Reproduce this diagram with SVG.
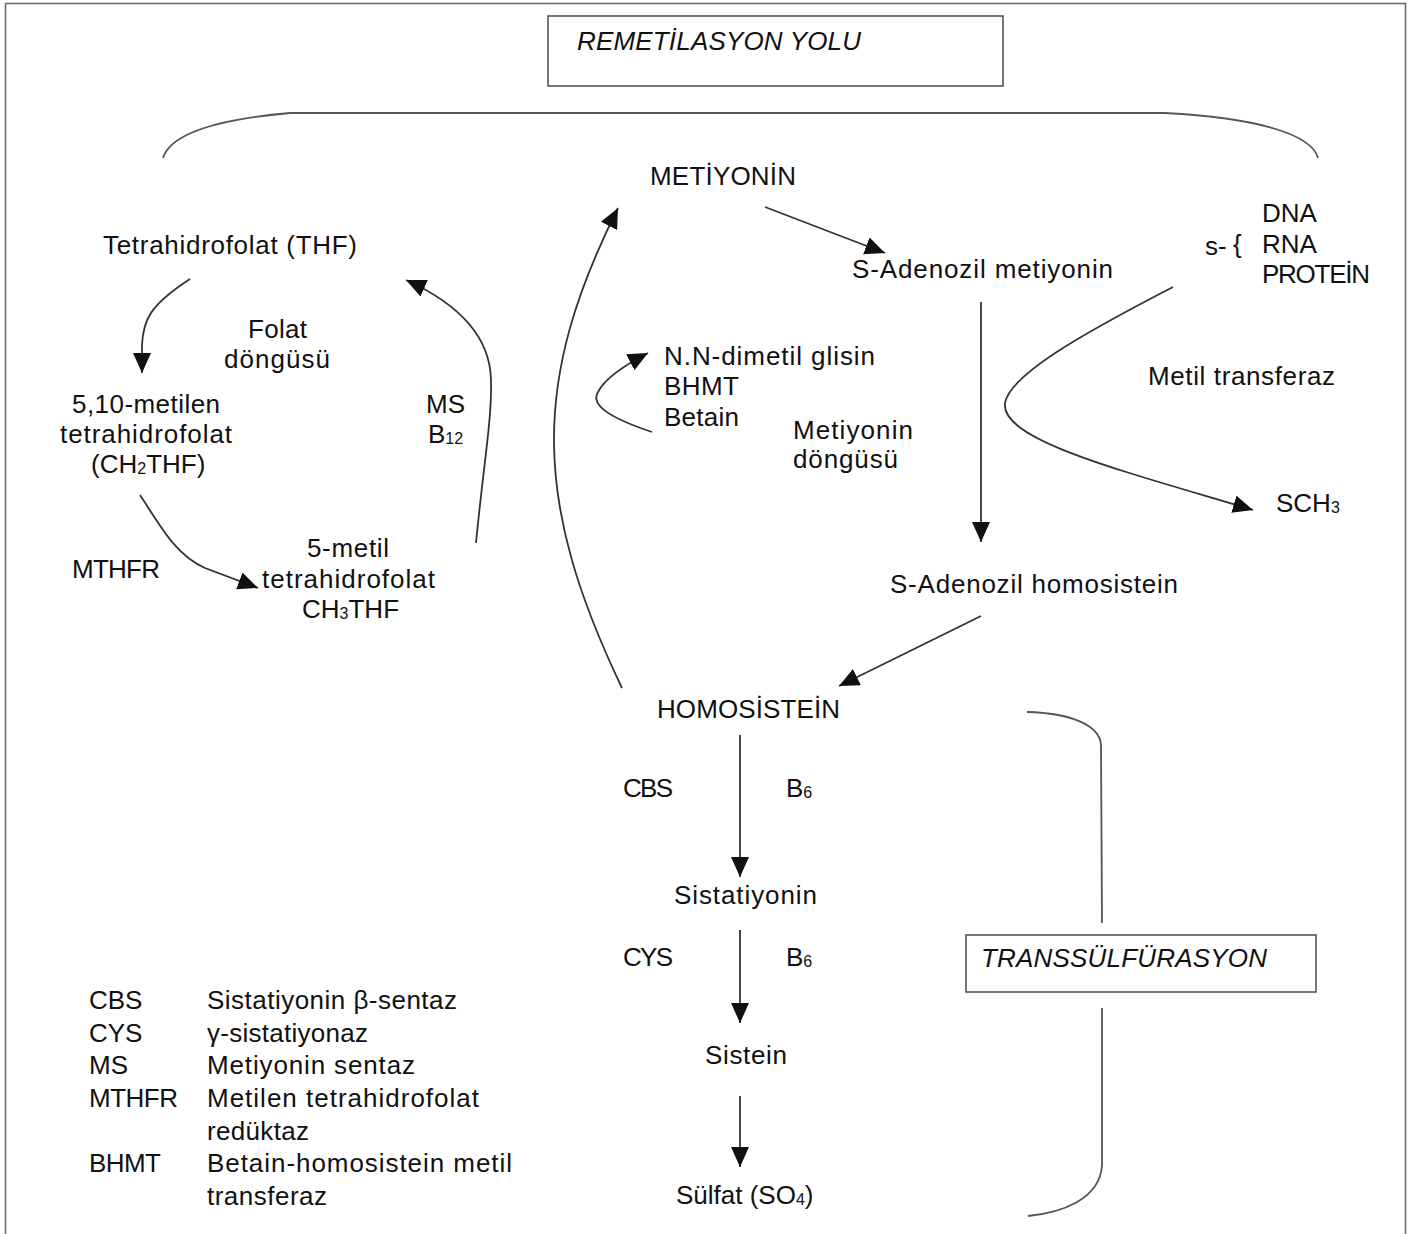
<svg xmlns="http://www.w3.org/2000/svg" width="1412" height="1234" viewBox="0 0 1412 1234">
<style>
.t{font-family:"Liberation Sans",Arial,sans-serif;font-size:26px;fill:#111}
.it{font-style:italic}
.sub{font-size:16px}
.ln{fill:none;stroke:#333;stroke-width:1.8}
.br{fill:none;stroke:#555;stroke-width:1.8}
.bx{fill:#fff;stroke:#555;stroke-width:1.6}
</style>
<defs>
<marker id="ah" markerUnits="userSpaceOnUse" markerWidth="22" markerHeight="20" refX="20" refY="9" orient="auto">
<path d="M0,0 L20,9 L0,18 z" fill="#111"/>
</marker>
</defs>
<rect width="1412" height="1234" fill="#fff"/>
<path d="M5.5,1234 V3.5 H1405.5 V1234" fill="none" stroke="#666" stroke-width="1.5"/>

<g id="brackets">
<path class="br" d="M163,158 C170,135 210,120 290,113 L1165,113 C1260,118 1312,135 1318,158"/>
<path class="br" d="M1027,712 C1070,713 1100,725 1101,745 L1102,923"/>
<path class="br" d="M1102,1008 L1102,1165 C1100,1200 1060,1213 1028,1216"/>
</g>

<g id="connectors">
<path class="ln" marker-end="url(#ah)" d="M190,279 C150,305 143,320 142,345 L142,373"/>
<path class="ln" marker-end="url(#ah)" d="M140,495 C160,525 175,555 205,568 L258,588"/>
<path class="ln" marker-end="url(#ah)" d="M476,543 C484,460 492,420 491,380 C490,330 450,300 406,280"/>
<path class="ln" marker-end="url(#ah)" d="M622,688 C532,500 532,380 618,208"/>
<path class="ln" marker-end="url(#ah)" d="M765,207 L885,253"/>
<path class="ln" marker-end="url(#ah)" d="M981,302 L981,542"/>
<path class="ln" marker-end="url(#ah)" d="M981,616 L839,686"/>
<path class="ln" marker-end="url(#ah)" d="M740,735 L740,877"/>
<path class="ln" marker-end="url(#ah)" d="M740,930 L740,1023"/>
<path class="ln" marker-end="url(#ah)" d="M740,1096 L740,1167"/>
<path class="ln" marker-end="url(#ah)" d="M652,432 C610,418 590,405 598,392 C605,378 625,365 648,353"/>
<path class="ln" marker-end="url(#ah)" d="M1173,287 C1080,335 1010,375 1005,403 C1000,440 1120,470 1253,510"/>
</g>

<g id="remetilasyon">
<rect class="bx" x="548" y="16" width="455" height="70"/>
<text class="t it" x="577" y="50" textLength="284">REMETİLASYON YOLU</text>
</g>
<g id="transsulfurasyon">
<rect class="bx" x="966" y="935" width="350" height="57"/>
<text class="t it" x="981" y="967" textLength="286">TRANSSÜLFÜRASYON</text>
</g>

<g id="metiyonin"><text class="t" x="650" y="185" textLength="146">METİYONİN</text></g>
<g id="thf"><text class="t" x="103" y="254" textLength="254">Tetrahidrofolat (THF)</text></g>
<g id="sam"><text class="t" x="852" y="278" textLength="261">S-Adenozil metiyonin</text></g>
<g id="s-dna">
<text class="t" x="1205" y="255">s-</text>
<text class="t" x="1233" y="253">{</text>
<text class="t" x="1262" y="222">DNA</text>
<text class="t" x="1262" y="253">RNA</text>
<text class="t" x="1262" y="283" textLength="108">PROTEİN</text>
</g>
<g id="folat-dongusu">
<text class="t" x="248" y="338" textLength="59">Folat</text>
<text class="t" x="224" y="368" textLength="106">döngüsü</text>
</g>
<g id="ch2thf">
<text class="t" x="72" y="413" textLength="148">5,10-metilen</text>
<text class="t" x="60" y="443" textLength="172">tetrahidrofolat</text>
<text class="t" x="91" y="473">(CH<tspan class="sub" dy="1">2</tspan><tspan dy="-1">THF)</tspan></text>
</g>
<g id="ms-b12">
<text class="t" x="426" y="413">MS</text>
<text class="t" x="428" y="443">B<tspan class="sub" dy="1">12</tspan></text>
</g>
<g id="bhmt">
<text class="t" x="664" y="365" textLength="211">N.N-dimetil glisin</text>
<text class="t" x="664" y="395" textLength="75">BHMT</text>
<text class="t" x="664" y="426" textLength="75">Betain</text>
</g>
<g id="metiyonin-dongusu">
<text class="t" x="793" y="439" textLength="120">Metiyonin</text>
<text class="t" x="793" y="468" textLength="105">döngüsü</text>
</g>
<g id="metil-transferaz"><text class="t" x="1148" y="385" textLength="187">Metil transferaz</text></g>
<g id="sch3"><text class="t" x="1276" y="512">SCH<tspan class="sub" dy="1">3</tspan></text></g>
<g id="mthfr"><text class="t" x="72" y="578" textLength="88">MTHFR</text></g>
<g id="ch3thf">
<text class="t" x="307" y="557" textLength="82">5-metil</text>
<text class="t" x="262" y="588" textLength="173">tetrahidrofolat</text>
<text class="t" x="302" y="618">CH<tspan class="sub" dy="1">3</tspan><tspan dy="-1">THF</tspan></text>
</g>
<g id="sah"><text class="t" x="890" y="593" textLength="288">S-Adenozil homosistein</text></g>
<g id="homosistein"><text class="t" x="657" y="718" textLength="183">HOMOSİSTEİN</text></g>
<g id="cbs">
<text class="t" x="623" y="797" textLength="50">CBS</text>
<text class="t" x="786" y="797">B<tspan class="sub" dy="1">6</tspan></text>
</g>
<g id="sistatiyonin"><text class="t" x="674" y="904" textLength="143">Sistatiyonin</text></g>
<g id="cys">
<text class="t" x="623" y="966" textLength="50">CYS</text>
<text class="t" x="786" y="966">B<tspan class="sub" dy="1">6</tspan></text>
</g>
<g id="sistein"><text class="t" x="705" y="1064" textLength="82">Sistein</text></g>
<g id="sulfat"><text class="t" x="676" y="1204">Sülfat (SO<tspan class="sub" dy="1">4</tspan><tspan dy="-1">)</tspan></text></g>

<g id="legend">
<text class="t" x="89" y="1009">CBS</text>
<text class="t" x="207" y="1009" textLength="250">Sistatiyonin β-sentaz</text>
<text class="t" x="89" y="1042">CYS</text>
<text class="t" x="207" y="1042" textLength="161">γ-sistatiyonaz</text>
<text class="t" x="89" y="1074">MS</text>
<text class="t" x="207" y="1074" textLength="208">Metiyonin sentaz</text>
<text class="t" x="89" y="1107" textLength="89">MTHFR</text>
<text class="t" x="207" y="1107" textLength="272">Metilen tetrahidrofolat</text>
<text class="t" x="207" y="1140" textLength="102">redüktaz</text>
<text class="t" x="89" y="1172" textLength="72">BHMT</text>
<text class="t" x="207" y="1172" textLength="305">Betain-homosistein metil</text>
<text class="t" x="207" y="1205" textLength="120">transferaz</text>
</g>
</svg>
